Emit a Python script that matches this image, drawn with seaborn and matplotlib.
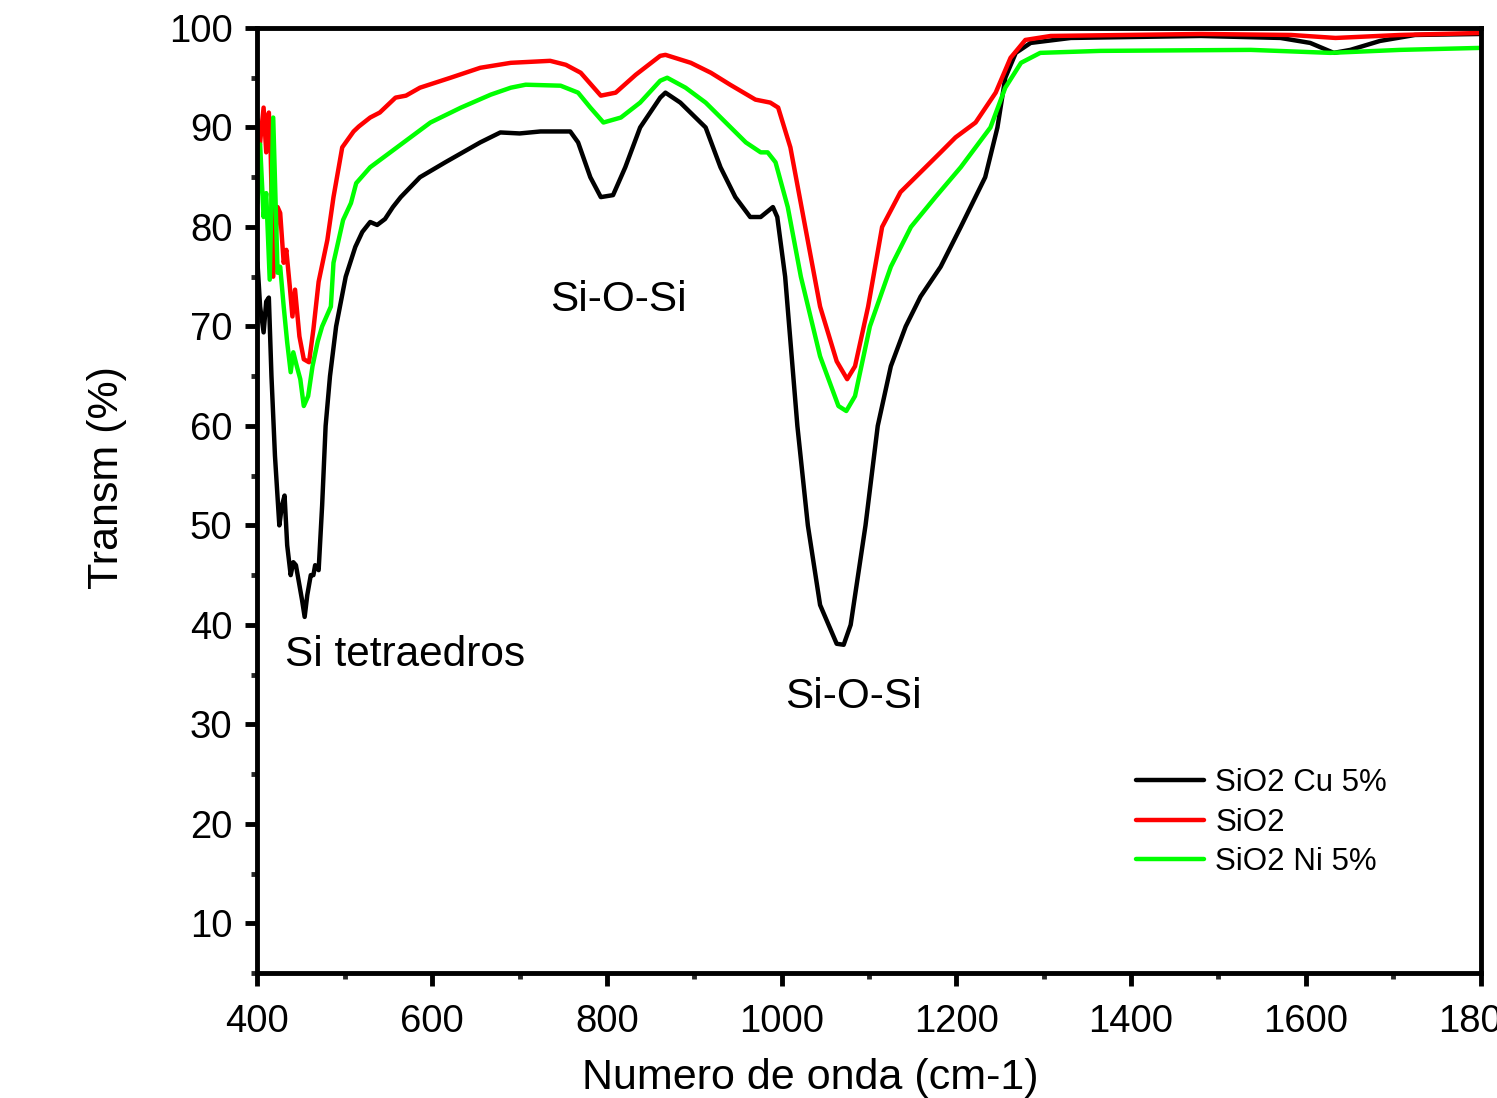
import numpy as np
import pandas as pd
import matplotlib
matplotlib.use('Agg')
import matplotlib.pyplot as plt
from matplotlib.ticker import MultipleLocator
import seaborn as sns

# FTIR spectra (wavenumber cm-1, transmittance %)
cu_x = [400, 403, 407, 410, 413, 416, 420, 425, 428, 431, 434, 438, 441, 444, 448, 451, 454,
        457, 461, 464, 466, 470, 474, 478, 483, 490, 501, 512, 520, 529, 537, 546, 555, 564,
        586, 615, 655, 678, 700, 724, 758, 767, 781, 793, 807, 821, 838, 861, 867, 884, 913,
        930, 947, 964, 976, 990, 995, 1004, 1018, 1030, 1044, 1063, 1071, 1079, 1096, 1110,
        1125, 1142, 1159, 1182, 1205, 1233, 1247, 1256, 1268, 1285, 1331, 1480, 1571, 1605,
        1632, 1651, 1685, 1725, 1800]
cu_y = [76.4, 72.0, 69.4, 72.5, 72.9, 65.0, 57.0, 50.0, 52.0, 53.0, 48.0, 45.0, 46.3, 46.0,
        44.0, 42.5, 40.8, 43.0, 45.0, 45.0, 46.0, 45.5, 52.0, 60.0, 65.0, 70.0, 75.0, 78.0,
        79.5, 80.5, 80.2, 80.8, 82.0, 83.0, 85.0, 86.5, 88.5, 89.5, 89.4, 89.6, 89.6, 88.5,
        85.0, 83.0, 83.2, 86.0, 90.0, 93.0, 93.5, 92.5, 90.0, 86.0, 83.0, 81.0, 81.0, 82.0,
        81.0, 75.0, 60.0, 50.0, 42.0, 38.1, 38.0, 40.0, 50.0, 60.0, 66.0, 70.0, 73.0, 76.0,
        80.0, 85.0, 90.0, 95.0, 97.5, 98.5, 99.0, 99.2, 99.0, 98.5, 97.5, 97.8, 98.7, 99.3, 99.4]

sio2_x = [400, 401, 403, 407, 410, 413, 415, 418, 423, 426, 430, 433, 437, 440, 443, 448,
          453, 459, 464, 470, 480, 487, 497, 510, 516, 529, 540, 558, 570, 586, 621, 655, 690,
          735, 753, 770, 793, 810, 833, 861, 867, 896, 919, 941, 970, 987, 996, 1010, 1027,
          1044, 1063, 1075, 1084, 1099, 1115, 1136, 1159, 1182, 1199, 1222, 1245, 1262, 1279,
          1308, 1480, 1583, 1634, 1708, 1800]
sio2_y = [90.8, 87.0, 88.5, 92.0, 87.5, 91.5, 88.0, 75.0, 82.0, 81.4, 76.4, 77.7, 74.0, 71.0,
          73.7, 69.0, 66.7, 66.4, 69.7, 74.5, 78.7, 83.0, 88.0, 89.6, 90.1, 91.0, 91.5, 93.0,
          93.2, 94.0, 95.0, 96.0, 96.5, 96.7, 96.3, 95.5, 93.2, 93.5, 95.3, 97.2, 97.3, 96.5,
          95.5, 94.3, 92.8, 92.5, 92.0, 88.0, 80.0, 72.0, 66.5, 64.7, 66.0, 72.0, 80.0, 83.5,
          85.5, 87.5, 89.0, 90.5, 93.5, 97.0, 98.8, 99.2, 99.4, 99.3, 99.0, 99.3, 99.5]

ni_x = [400, 403, 407, 410, 414, 418, 423, 426, 430, 434, 438, 441, 445, 449, 453, 458, 463,
        469, 474, 484, 487, 498, 507, 513, 529, 552, 575, 598, 633, 667, 690, 707, 747, 767,
        781, 796, 816, 838, 861, 869, 890, 913, 936, 959, 976, 984, 993, 1007, 1022, 1044,
        1065, 1074, 1084, 1101, 1125, 1148, 1176, 1205, 1239, 1256, 1274, 1296, 1365, 1537,
        1628, 1708, 1800]
ni_y = [82.4, 88.3, 81.0, 83.4, 74.7, 91.0, 75.4, 76.0, 72.0, 68.4, 65.4, 67.4, 66.0, 64.7,
        62.0, 63.0, 66.0, 68.5, 70.0, 72.0, 76.4, 80.7, 82.4, 84.4, 86.0, 87.5, 89.0, 90.5,
        92.0, 93.3, 94.0, 94.3, 94.2, 93.5, 92.0, 90.5, 91.0, 92.5, 94.7, 95.0, 94.0, 92.5,
        90.5, 88.5, 87.5, 87.5, 86.5, 82.0, 75.0, 67.0, 62.0, 61.5, 63.0, 70.0, 76.0, 80.0,
        83.0, 86.0, 90.0, 94.0, 96.5, 97.5, 97.7, 97.8, 97.5, 97.8, 98.0]

series_names = ['SiO2 Cu 5%', 'SiO2', 'SiO2 Ni 5%']
series_colors = ['#000000', '#ff0000', '#00ff00']

sns.set_theme(style='white')
plt.rcParams['font.family'] = ['Liberation Sans', 'DejaVu Sans']
plt.rcParams['text.color'] = 'black'

fig = plt.figure(figsize=(14.97, 10.98), dpi=100)
ax = fig.add_axes([0.172, 0.1138, 0.817, 0.8607])

for name, xs, ys, col in zip(series_names, [cu_x, sio2_x, ni_x], [cu_y, sio2_y, ni_y], series_colors):
    df = pd.DataFrame({'x': xs, 'y': ys})
    sns.lineplot(data=df, x='x', y='y', ax=ax, color=col, lw=3.2, label=name,
                 sort=False, estimator=None)

ax.set_xlim(400, 1800)
ax.set_ylim(5, 100)
ax.xaxis.set_major_locator(MultipleLocator(200))
ax.xaxis.set_minor_locator(MultipleLocator(100))
ax.yaxis.set_minor_locator(MultipleLocator(5))
ax.set_yticks(range(10, 101, 10))
ax.tick_params(which='major', direction='out', length=9, width=3.5, labelsize=27.5,
               color='black', labelcolor='black', bottom=True, left=True)
ax.tick_params(axis='x', which='major', pad=13)
ax.tick_params(axis='y', which='major', pad=9)
ax.tick_params(which='minor', direction='out', length=4.5, width=3.5, bottom=True, left=True)
for sp in ax.spines.values():
    sp.set_linewidth(3.5)
    sp.set_color('black')

ax.set_xlabel('Numero de onda (cm-1)', fontsize=31, color='black')
ax.set_ylabel('Transm (%)', fontsize=31, color='black')
ax.xaxis.set_label_coords(0.452, -0.09)
ax.yaxis.set_label_coords(-0.107, 0.524)

ax.text(432, 35.9, 'Si tetraedros', fontsize=30.5, va='baseline', ha='left', color='black')
ax.text(735, 71.6, 'Si-O-Si', fontsize=30.5, va='baseline', ha='left', color='black')
ax.text(1004, 31.6, 'Si-O-Si', fontsize=30.5, va='baseline', ha='left', color='black')

leg = ax.legend(loc='upper left', bbox_to_anchor=(0.718, 0.217), frameon=False,
                fontsize=22.5, handlelength=2.2, handletextpad=0.35, labelspacing=0.31,
                borderpad=0, borderaxespad=0, labelcolor='black')
for line in leg.get_lines():
    line.set_linewidth(3.2)

fig.savefig('out.png', dpi=100)
